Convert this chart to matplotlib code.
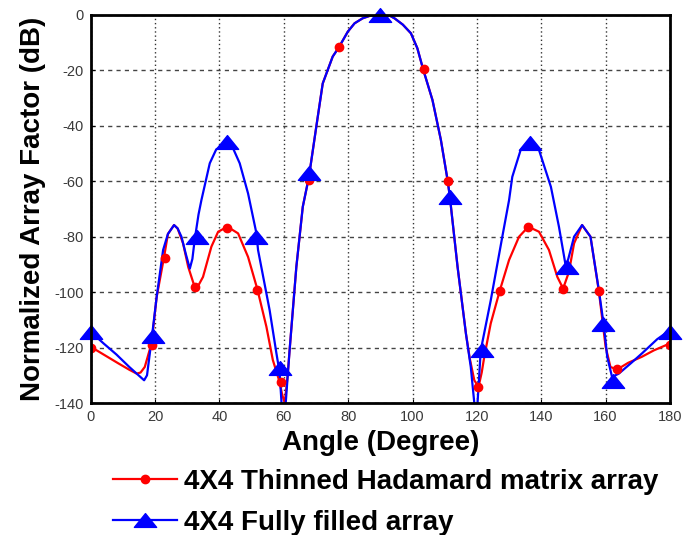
import matplotlib
matplotlib.use("Agg")
import matplotlib.pyplot as plt
from matplotlib.lines import Line2D
from matplotlib.path import Path

plt.rcParams['font.family'] = ['Liberation Sans', 'DejaVu Sans']
plt.rcParams['axes.unicode_minus'] = False

# thinned hadamard array (red) - traced curve
red_x = [0, 4, 8.6, 12, 14.3, 15.5, 16.8, 18.9, 20.5, 22.8, 24, 25.9, 27, 28.7, 30.3, 32.3, 33.5, 34.9,
         37.5, 39.6, 42.5, 45.8, 48.9, 51.8, 54.6, 56.6, 58.7, 59.5, 60.3, 61.2, 61.8, 63.9, 65.9, 67.8,
         70.1, 72.1, 75.2, 77.1, 79.9, 82, 84.5, 87, 90, 93, 94.4, 97, 99.5, 101.5, 103.3, 106.2, 108.8,
         110.9, 111.6, 114, 116.6, 117.8, 119.2, 120.5, 121.5, 122.3, 124.3, 127.1, 130, 133.1, 136,
         139.3, 142.4, 145, 146.8, 148.6, 150.2, 152.7, 155.3, 157.9, 160, 161.5, 163.6, 167, 171.3,
         175, 178.8, 180]
red_y = [-119.7, -122.5, -125.7, -128, -129.4, -129, -127, -118.5, -101.7, -87.3, -79, -75.8, -77, -82.4,
         -90.9, -98.1, -97.5, -94.5, -83.6, -78.2, -76.4, -78.8, -87.3, -99, -112.5, -124.5, -132.4, -137,
         -140, -130, -121, -90.9, -69.2, -58.5, -40.3, -24.7, -15, -11.7, -6, -3, -1.2, -0.2, 0, -0.3,
         -1.2, -3.5, -6.6, -12, -19.6, -30.7, -45, -59.6, -65.6, -90.9, -115, -124, -131.8, -134.2, -129,
         -123.3, -111.3, -99.5, -88.4, -80, -76.4, -78.2, -84.8, -94.5, -98.7, -92.7, -82.4, -75.8, -80,
         -99.6, -119.7, -127, -127.9, -125.5, -123.3, -121, -119.1, -119]

# fully filled array (blue)
blue_x = [0, 4, 8, 12, 16.6, 17.5, 18.9, 20.5, 22.5, 24, 25.9, 27, 28.2, 29.5, 30.8, 31.6, 32.3, 33.5,
          34.4, 37, 39, 42.2, 44, 46.3, 48.9, 51.5, 52, 55.6, 57.7, 58.7, 59.3, 59.8, 60.6, 61.8, 63.9,
          65.9, 67.8, 70.1, 72.1, 75.2, 77.1, 79.9, 82, 84.5, 87, 90, 93, 94.4, 97, 99.5, 101.5, 103.3,
          106.2, 108.8, 110.9, 111.6, 114, 116.6, 118.1, 119.2, 119.7, 120.2, 121.2, 124.3, 127.9, 130,
          131, 133.6, 136.4, 139.3, 143, 145.5, 147.6, 148.4, 150.2, 152.7, 155.3, 157.9, 159.5, 160.5,
          162, 164.1, 168, 171.3, 176, 180]
blue_y = [-114.3, -118.5, -122.5, -127, -131.8, -130, -117.3, -101.7, -84.8, -79, -75.8, -77, -80, -86,
          -91.5, -88, -81.2, -72, -66.8, -53.5, -48.5, -46.3, -47.5, -53.5, -64.4, -78.8, -84.8, -106.5,
          -122, -129, -140, -150, -140, -121, -90.9, -69.2, -58.5, -40.3, -24.7, -15, -11.7, -6, -3, -1.2,
          -0.2, 0, -0.3, -1.2, -3.5, -6.6, -12, -19.6, -30.7, -45, -59.6, -65.6, -90.9, -115, -127, -140,
          -150, -140, -121, -103, -80, -66.8, -58.4, -48.7, -46.3, -48.7, -62, -76.4, -90.5, -88, -80,
          -75.8, -80, -99.3, -112.5, -123.3, -130.6, -129.4, -125.5, -122.1, -117, -113.7]

# marker points
red_mx = [0, 19, 23, 32.3, 42.5, 51.8, 59, 67.8, 77.1, 90, 103.7, 110.9, 120.5, 127.1, 136, 146.8, 157.9, 163.6, 180]
red_my = [-120, -119, -87.5, -98.3, -76.8, -99.3, -132.4, -59.6, -11.7, 0, -19.6, -60, -134.2, -99.6, -76.4,
          -98.7, -99.6, -127.9, -119]
blue_mx = [0, 19.4, 32.9, 42.2, 51.5, 58.7, 67.8, 90, 111.6, 121.7, 136.4, 148.1, 159.2, 162.3, 180]
blue_my = [-114.3, -116, -80, -46, -80, -127.5, -57, 0, -65.6, -121, -46.3, -90.8, -111.5, -132, -114.3]

labels = ["4X4 Thinned Hadamard matrix array", "4X4 Fully filled array"]

# wide flat triangle like the original
tri = Path([(-1, -0.62), (1, -0.62), (0, 0.62), (-1, -0.62)], closed=True)

fig = plt.figure(figsize=(6.84, 5.35), dpi=100)
ax = fig.add_axes([0.1326, 0.2467, 0.8469, 0.7253])

ax.plot(red_x, red_y, color="red", lw=1.6, zorder=3)
ax.plot(blue_x, blue_y, color="blue", lw=1.6, zorder=4)
ax.plot(red_mx, red_my, ls="none", marker="o", ms=6, color="red", zorder=5)
ax.plot(blue_mx, blue_my, ls="none", marker=tri, ms=16, color="blue", zorder=6, clip_on=False)

ax.set_xlim(0, 180)
ax.set_ylim(-140, 0)
ax.set_xticks(range(0, 181, 20))
ax.set_yticks(range(-140, 1, 20))
ax.tick_params(direction="in", length=3, labelsize=10.5, labelcolor="#3a3a3a", pad=5)

ax.xaxis.grid(True, color="#333333", lw=1, ls=(0, (1, 2)))
ax.yaxis.grid(True, color="#444444", lw=1, ls=(0, (3, 3)))
ax.set_axisbelow(True)
for s in ax.spines.values():
    s.set_linewidth(2)
    s.set_zorder(7)

ax.set_xlabel("Angle (Degree)", fontsize=20, fontweight="bold", labelpad=4)
ax.set_ylabel("Normalized Array Factor (dB)", fontsize=20, fontweight="bold", labelpad=6)

handles = [Line2D([], [], color="red", lw=1.6, marker="o", ms=6),
           Line2D([], [], color="blue", lw=1.6, marker=tri, ms=16)]
fig.legend(handles, labels, loc="upper left", bbox_to_anchor=(0.165, 0.124), frameon=False,
           prop={"weight": "bold", "size": 20}, handlelength=2.3, handletextpad=0.25,
           labelspacing=0.55, borderpad=0, borderaxespad=0, markerscale=1)

fig.savefig("out.png", dpi=100)
